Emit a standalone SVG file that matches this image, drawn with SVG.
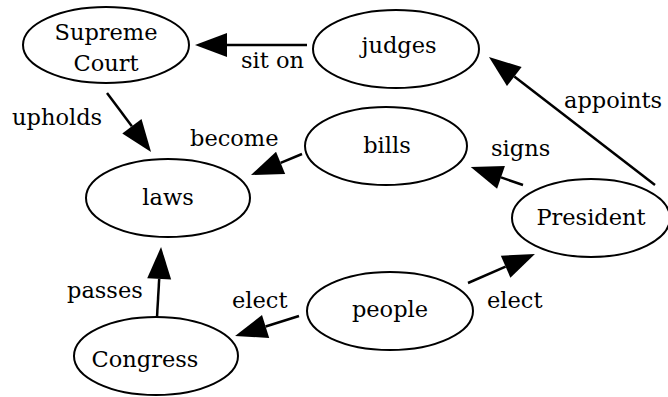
<svg xmlns="http://www.w3.org/2000/svg" width="668" height="397" viewBox="0 0 668 397">
<defs>
<style>
.n ellipse{fill:#fff;stroke:#000;stroke-width:2}
text{font-family:"DejaVu Serif","Liberation Serif",serif;font-size:22.5px;fill:#000}
.c{text-anchor:middle}
.e line{stroke:#000;stroke-width:2.5;marker-end:url(#ah)}
</style>
<marker id="ah" markerUnits="userSpaceOnUse" markerWidth="40" markerHeight="30" refX="0" refY="0" orient="auto" overflow="visible" viewBox="-2 -14 40 28">
<path d="M0,-12 L32,0 L0,12 z" fill="#000"/>
</marker>
</defs>
<rect width="668" height="397" fill="#fff"/>
<g id="edges" class="e">
<line x1="307" y1="45" x2="227" y2="45"/>
<line x1="107" y1="93" x2="131.9" y2="126.3"/>
<line x1="302" y1="154" x2="280.6" y2="162.8"/>
<line x1="655" y1="185" x2="514.3" y2="76.5"/>
<line x1="523" y1="185" x2="501" y2="177.4"/>
<line x1="468" y1="283" x2="505.6" y2="266.7"/>
<line x1="299" y1="316" x2="265.6" y2="326.5"/>
<line x1="157" y1="317" x2="159.2" y2="278.9"/>
<text x="241" y="68">sit on</text>
<text x="12" y="125">upholds</text>
<text x="190" y="146">become</text>
<text x="564" y="108">appoints</text>
<text x="491" y="156">signs</text>
<text x="487" y="308">elect</text>
<text x="232" y="308">elect</text>
<text x="67" y="298">passes</text>
</g>
<g id="supreme" class="n"><ellipse cx="106" cy="45" rx="83" ry="38"/><text class="c" x="106" y="40">Supreme</text><text class="c" x="106" y="71">Court</text></g>
<g id="judges" class="n"><ellipse cx="396" cy="49" rx="83" ry="39"/><text class="c" x="399" y="53">judges</text></g>
<g id="bills" class="n"><ellipse cx="386" cy="146" rx="81" ry="39"/><text class="c" x="387" y="153">bills</text></g>
<g id="laws" class="n"><ellipse cx="168" cy="198" rx="82" ry="39"/><text class="c" x="168" y="205">laws</text></g>
<g id="president" class="n"><ellipse cx="591" cy="218" rx="79" ry="39"/><text class="c" x="591" y="225">President</text></g>
<g id="people" class="n"><ellipse cx="390" cy="311" rx="83" ry="39"/><text class="c" x="390" y="317">people</text></g>
<g id="congress" class="n"><ellipse cx="156" cy="356" rx="82" ry="39"/><text class="c" x="145" y="367">Congress</text></g>
</svg>
